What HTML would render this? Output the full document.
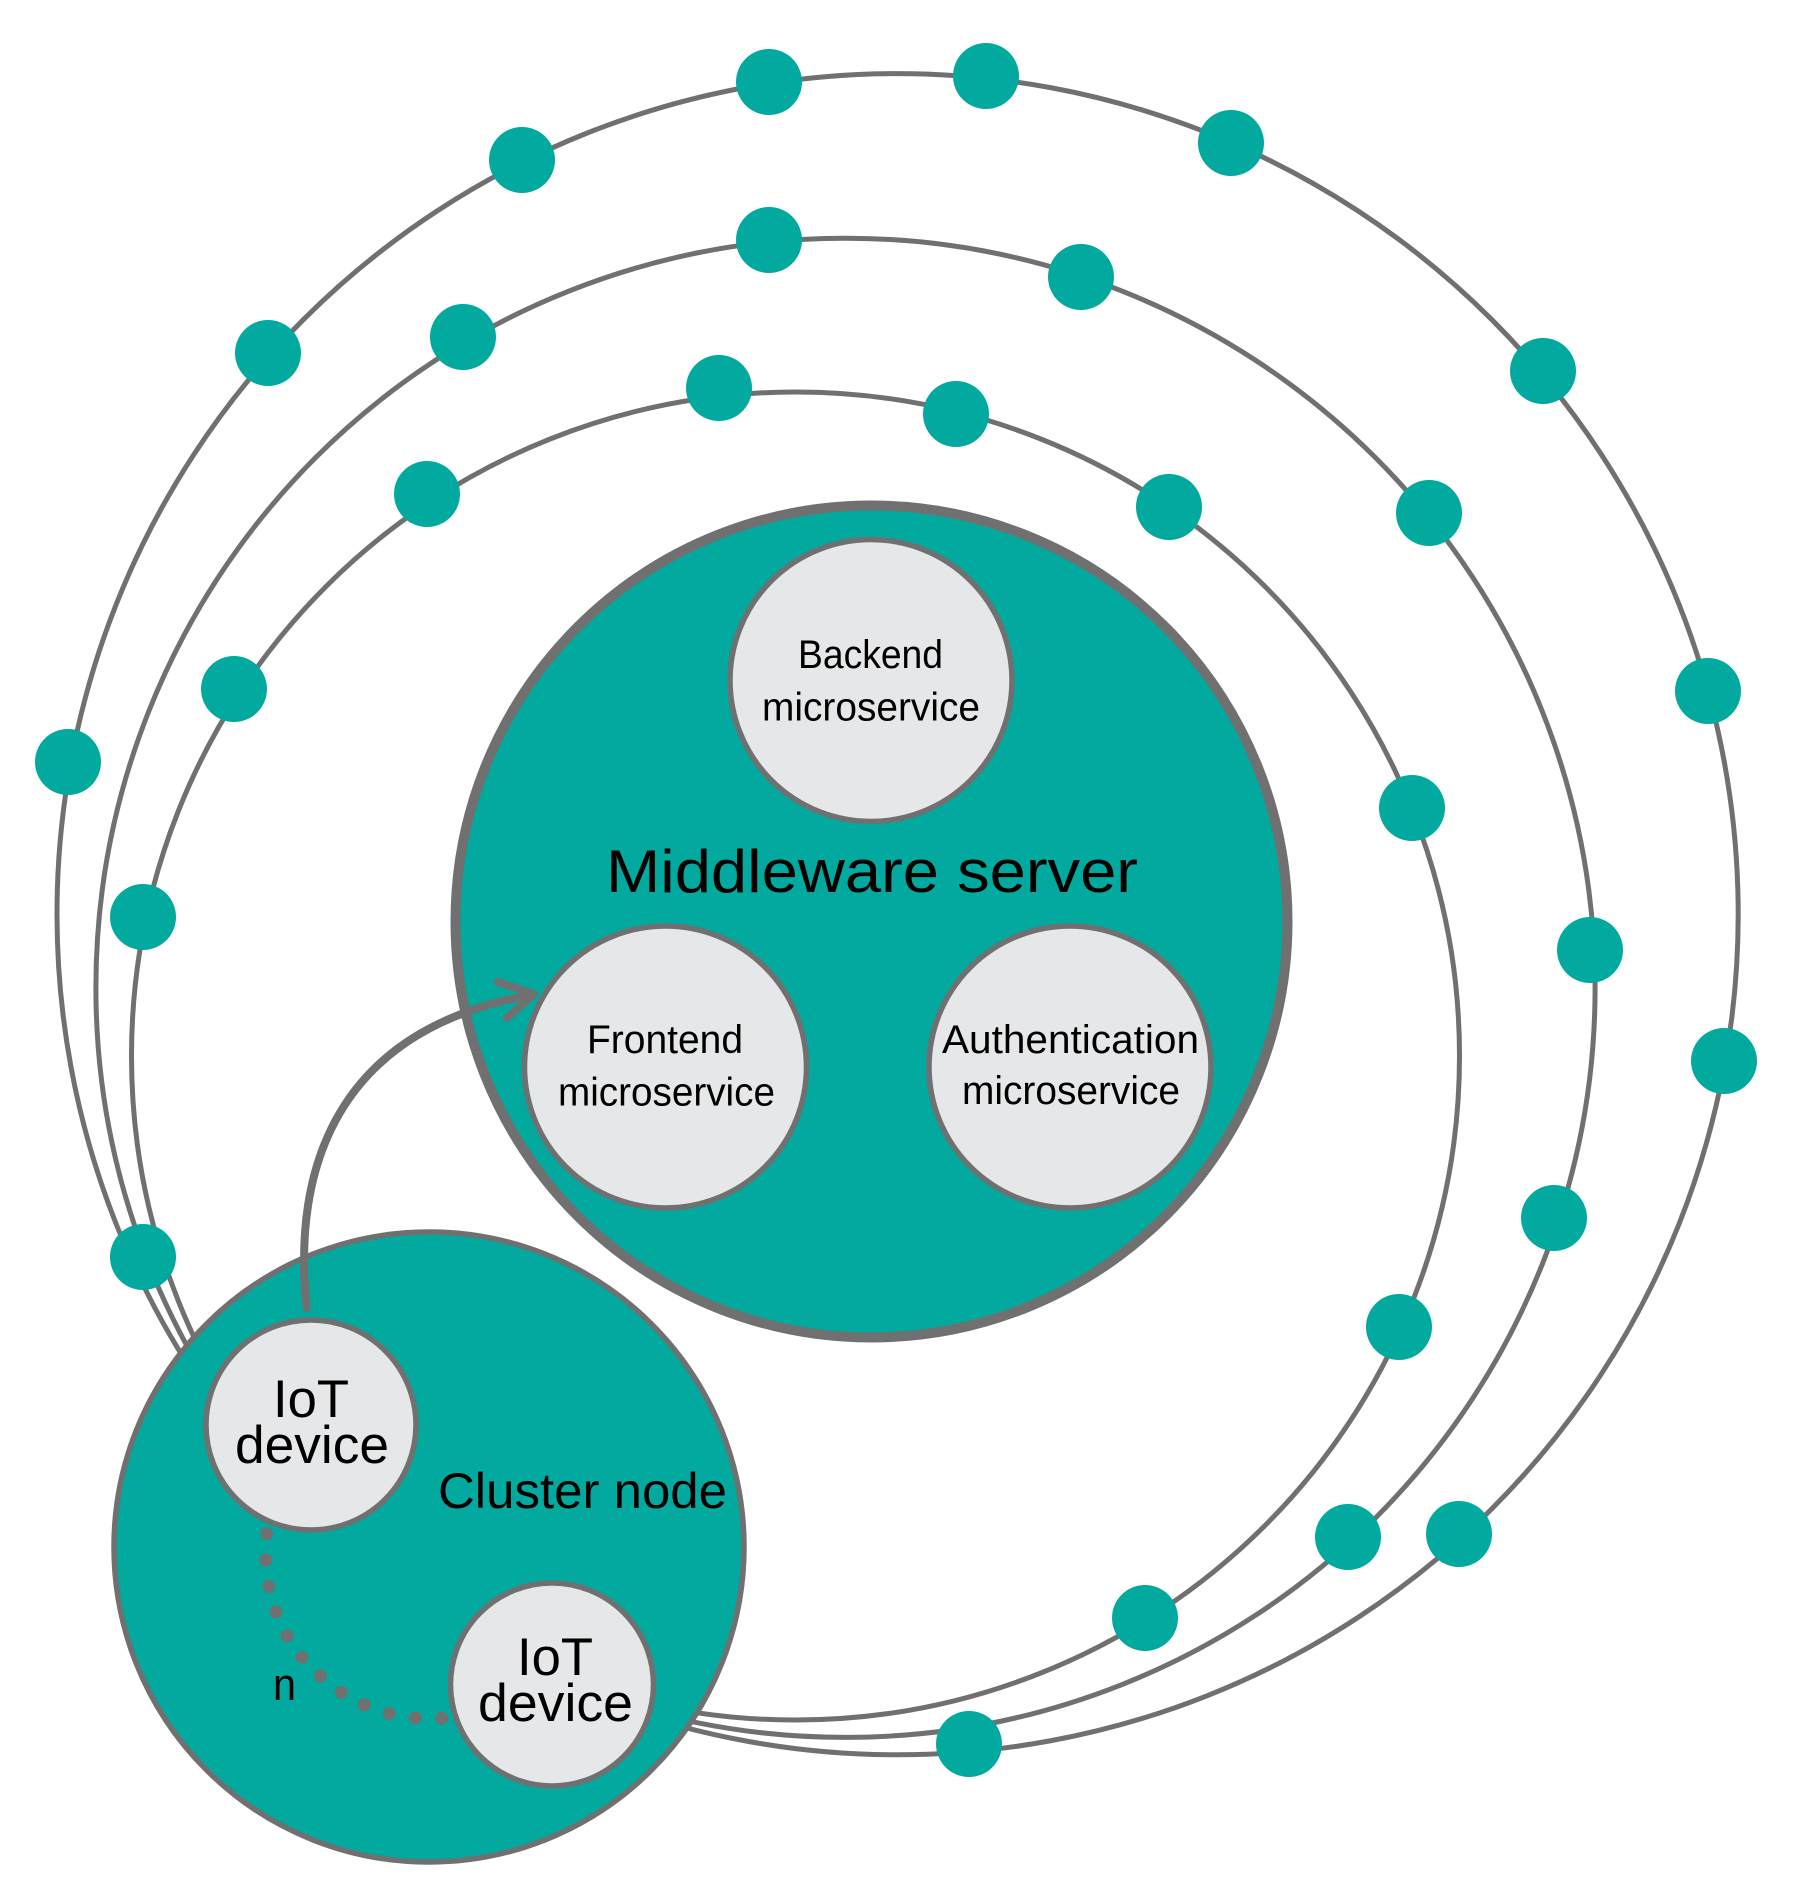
<!DOCTYPE html>
<html><head><meta charset="utf-8"><style>html,body{margin:0;padding:0;background:#fff}svg{display:block}text{font-family:"Liberation Sans",sans-serif;fill:#000}</style></head><body>
<svg width="1801" height="1902" viewBox="0 0 1801 1902" xmlns="http://www.w3.org/2000/svg">
<rect width="1801" height="1902" fill="#fff"/>
<g fill="none" stroke="#707070" stroke-width="5">
<circle cx="897.6" cy="914.2" r="840.6"/>
<circle cx="845.5" cy="987.8" r="749.6"/>
<circle cx="795.5" cy="1056" r="664"/>
</g>
<g fill="#02A99E">
<circle cx="68" cy="762" r="33"/><circle cx="268" cy="353" r="33"/><circle cx="522" cy="160" r="33"/><circle cx="769" cy="82" r="33"/><circle cx="986" cy="76" r="33"/><circle cx="1231" cy="143" r="33"/><circle cx="1543" cy="371" r="33"/><circle cx="1708" cy="691" r="33"/><circle cx="1724" cy="1061" r="33"/><circle cx="1459" cy="1534" r="33"/><circle cx="969" cy="1744" r="33"/><circle cx="143" cy="1257" r="33"/>
<circle cx="463" cy="337" r="33"/><circle cx="769" cy="240" r="33"/><circle cx="1081" cy="277" r="33"/><circle cx="1429" cy="513" r="33"/><circle cx="1590" cy="950" r="33"/><circle cx="1554" cy="1218" r="33"/><circle cx="1348" cy="1537" r="33"/>
<circle cx="143" cy="917" r="33"/><circle cx="234" cy="689" r="33"/><circle cx="427" cy="494" r="33"/><circle cx="719" cy="388" r="33"/><circle cx="956" cy="414" r="33"/><circle cx="1169" cy="507" r="33"/><circle cx="1412" cy="808" r="33"/><circle cx="1399" cy="1327" r="33"/><circle cx="1145" cy="1618" r="33"/>
</g>
<circle cx="871.5" cy="921.5" r="416" fill="#02A99E" stroke="#707070" stroke-width="10"/>
<circle cx="429" cy="1547" r="315" fill="#02A99E" stroke="#707070" stroke-width="5.5"/>
<g fill="#E6E7E9" stroke="#707070" stroke-width="5.5">
<circle cx="871" cy="680.5" r="141"/>
<circle cx="665.5" cy="1067" r="141"/>
<circle cx="1070" cy="1067" r="141"/>
<circle cx="311" cy="1425" r="105"/>
<circle cx="552" cy="1684.5" r="101.5"/>
</g>
<g fill="none" stroke="#707070" stroke-width="8" stroke-linecap="round" stroke-linejoin="round">
<path d="M306.7,1308 C292,1170 335,1030 531,995"/>
<path d="M498,982 L534,994 L507,1018"/>
</g>
<g fill="#707070">
<circle cx="266.8" cy="1533.7" r="6.5"/><circle cx="265.8" cy="1560" r="6.5"/><circle cx="268.9" cy="1586.5" r="6.5"/><circle cx="276" cy="1611.9" r="6.5"/><circle cx="287.2" cy="1635.9" r="6.5"/><circle cx="302" cy="1657.4" r="6.5"/><circle cx="320.4" cy="1676" r="6.5"/><circle cx="341.3" cy="1692.4" r="6.5"/><circle cx="364.3" cy="1704.9" r="6.5"/><circle cx="389.3" cy="1713.5" r="6.5"/><circle cx="415.3" cy="1717.9" r="6.5"/><circle cx="441.8" cy="1718.3" r="6.5"/>
</g>
<text x="606" y="892" font-size="60" textLength="532" lengthAdjust="spacingAndGlyphs">Middleware server</text>
<text x="798" y="668" font-size="40" textLength="145" lengthAdjust="spacingAndGlyphs">Backend</text>
<text x="762" y="720.5" font-size="40" textLength="218" lengthAdjust="spacingAndGlyphs">microservice</text>
<text x="587" y="1053" font-size="40" textLength="156" lengthAdjust="spacingAndGlyphs">Frontend</text>
<text x="558" y="1105.5" font-size="40" textLength="217" lengthAdjust="spacingAndGlyphs">microservice</text>
<text x="942" y="1053" font-size="40" textLength="257" lengthAdjust="spacingAndGlyphs">Authentication</text>
<text x="962" y="1104" font-size="40" textLength="218" lengthAdjust="spacingAndGlyphs">microservice</text>
<text x="273" y="1417" font-size="53" textLength="76" lengthAdjust="spacingAndGlyphs">IoT</text>
<text x="235" y="1463" font-size="53" textLength="154" lengthAdjust="spacingAndGlyphs">device</text>
<text x="438" y="1508" font-size="50" textLength="289" lengthAdjust="spacingAndGlyphs">Cluster node</text>
<text x="273" y="1700" font-size="45" textLength="23" lengthAdjust="spacingAndGlyphs">n</text>
<text x="517" y="1675" font-size="53" textLength="76" lengthAdjust="spacingAndGlyphs">IoT</text>
<text x="478" y="1721" font-size="53" textLength="155" lengthAdjust="spacingAndGlyphs">device</text>
</svg>
</body></html>
